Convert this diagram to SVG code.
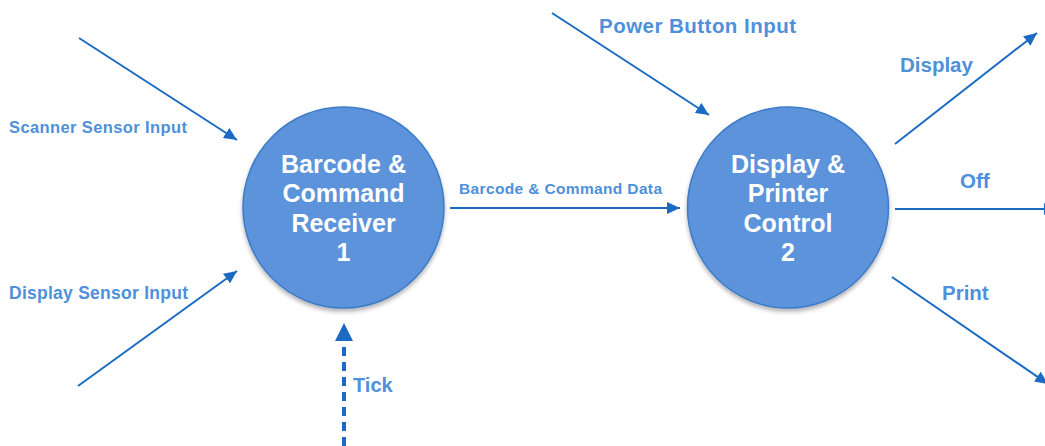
<svg xmlns="http://www.w3.org/2000/svg" width="1045" height="446" viewBox="0 0 1045 446">
<style>
.bubble{fill:#5b93db;stroke:#3d7bc8;stroke-width:1.5;filter:url(#sh)}
.ntext{font-family:"Liberation Sans",Arial,sans-serif;font-weight:bold;font-size:25px;fill:#ffffff;text-anchor:middle}
.flow{stroke:#1b6bc4;stroke-width:2;fill:none;marker-end:url(#ah)}
.lbl{font-family:"Liberation Sans",Arial,sans-serif;font-weight:bold;fill:#4f90da}
</style>
<defs>
<filter id="sh" x="-20%" y="-20%" width="140%" height="150%">
<feDropShadow dx="0" dy="3" stdDeviation="2" flood-color="#000" flood-opacity="0.3"/>
</filter>
<marker id="ah" markerUnits="userSpaceOnUse" markerWidth="14" markerHeight="12" refX="13" refY="6" orient="auto">
<path d="M0,0 L13,6 L0,12 Z" fill="#1b6bc4"/>
</marker>
<marker id="ahb" markerUnits="userSpaceOnUse" markerWidth="19" markerHeight="18" refX="18" refY="9" orient="auto">
<path d="M0,0 L18,9 L0,18 Z" fill="#1b6bc4"/>
</marker>
</defs>
<g id="connectors">
<line class="flow" x1="79" y1="38" x2="237" y2="140"/>
<line class="flow" x1="78" y1="386" x2="237" y2="271"/>
<line class="flow" x1="450" y1="208" x2="680" y2="208"/>
<line class="flow" x1="552" y1="13" x2="709" y2="115"/>
<line class="flow" x1="895" y1="144" x2="1037" y2="33"/>
<line class="flow" x1="895" y1="209" x2="1057" y2="209"/>
<line class="flow" x1="892" y1="277" x2="1048" y2="384"/>
<line x1="344" y1="446" x2="344" y2="336" stroke="#1b6bc4" stroke-width="4" stroke-dasharray="9 6" fill="none"/>
<path d="M335,341 L344,323 L353,341 Z" fill="#1b6bc4"/>
</g>
<g id="labels">
<text class="lbl" x="9" y="133" font-size="16.5" textLength="178">Scanner Sensor Input</text>
<text class="lbl" x="9" y="299" font-size="17.5" textLength="179">Display Sensor Input</text>
<text class="lbl" x="459" y="194" font-size="15.5" textLength="203">Barcode &amp; Command Data</text>
<text class="lbl" x="599" y="33" font-size="20.5" textLength="197">Power Button Input</text>
<text class="lbl" x="900" y="72" font-size="20.5">Display</text>
<text class="lbl" x="960" y="188" font-size="20.5">Off</text>
<text class="lbl" x="942" y="300" font-size="20.5">Print</text>
<text class="lbl" x="353" y="392" font-size="20">Tick</text>
</g>
<g id="node1">
<circle class="bubble" cx="343.5" cy="207.5" r="100.5"/>
<text class="ntext" x="343.5" y="173">Barcode &amp;</text>
<text class="ntext" x="343.5" y="202">Command</text>
<text class="ntext" x="343.5" y="232">Receiver</text>
<text class="ntext" x="343.5" y="261">1</text>
</g>
<g id="node2">
<circle class="bubble" cx="788" cy="207.5" r="100.5"/>
<text class="ntext" x="788" y="173">Display &amp;</text>
<text class="ntext" x="788" y="202">Printer</text>
<text class="ntext" x="788" y="232">Control</text>
<text class="ntext" x="788" y="261">2</text>
</g>
</svg>
